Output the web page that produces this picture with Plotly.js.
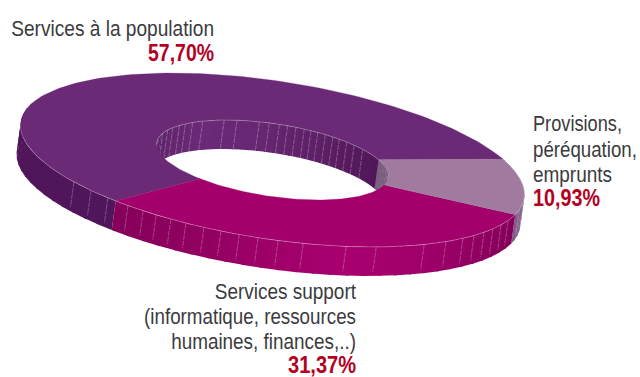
<!DOCTYPE html>
<html>
<head>
<meta charset="utf-8">
<script src="https://cdn.plot.ly/plotly-3.0.1.min.js"></script>
<style>html,body{margin:0;padding:0;background:#fff}#chart{width:640px;height:377px}</style>
</head>
<body>
<div id="chart"></div>
<script>
// Budget shares, in percent
const categories = ['Services à la population', 'Services support', 'Provisions'];
const shares = [57.70, 31.37, 10.93];

// Label lines per category
const labelLines = [
  ['Services à la population'],
  ['Services support', '(informatique, ressources', 'humaines, finances,..)'],
  ['Provisions,', 'péréquation,', 'emprunts']
];

// Colours of each top face
const topColors = ['#6a2a75', '#a3006c', '#a07a9f'];

// Shading along the walls: [angle in degrees, colour]
const outerWallShades = [
  [[125, '#50155a'], [195, '#50155a']],
  [[14, '#84005a'], [30, '#8e0060'], [50, '#9f006a'], [70, '#a8006f'], [90, '#9d0067'], [110, '#8c005e'], [128, '#84005a']],
  [[-26, '#9a7aa0'], [15, '#7d5a84']]
];
const innerWallShades = [
  [[-195, '#5a2066'], [-165, '#5e2269'], [-130, '#6b2a77'], [-100, '#672773'], [-60, '#5a1d62'], [-25, '#4f1558']],
  [[-28, '#7c5f80'], [16, '#7c5f80']]
];

// Facet seams on the walls, in degrees around the ring
const outerSeams = [139.3, 133.4, 128.1, 122.3, 118.2, 114.8, 111.1, 107.4, 103.1, 99.1, 94.9, 90.6, 86, 80.3,
  70.3, 63, 50.3, 43.8, 38.2, 34.2, 30.2, 26.3, 22.2, 18.1, 9, 3];
const innerSeams = [-163.9, -157.3, -152, -146.1, -141.4, -136.2, -129.7, -117.3, -110.5, -99.2, -94.3, -89.3,
  -85.2, -81, -76.8, -73.3, -69.7, -65.6, -61.4, -57.5, -52.9, -47.9, -41.6];

// Ring geometry on the page-sized axes
const ring = {cx: 272.5, cy: 160, a: 254.6, b: 79, tilt: 8.63, hole: 0.46, dx: -4, dy: 29};
const startAngle = -26.5;

const rad = d => d * Math.PI / 180;
function pt(t, scale, drop) {
  const u = ring.a * scale * Math.cos(rad(t)), v = ring.b * scale * Math.sin(rad(t));
  const c = Math.cos(rad(ring.tilt)), s = Math.sin(rad(ring.tilt));
  return [ring.cx + u * c - v * s + ring.dx * drop, ring.cy + u * s + v * c + ring.dy * drop];
}
function arc(t0, t1, scale, drop) {
  const n = Math.max(2, Math.ceil(Math.abs(t1 - t0) / 1.5));
  const pts = [];
  for (let i = 0; i <= n; i++) pts.push(pt(t0 + (t1 - t0) * i / n, scale, drop));
  return pts;
}
const hex = c => [1, 3, 5].map(i => parseInt(c.substr(i, 2), 16));
function shade(stops, t) {
  if (t <= stops[0][0]) return stops[0][1];
  for (let i = 1; i < stops.length; i++) {
    if (t <= stops[i][0]) {
      const f = (t - stops[i - 1][0]) / (stops[i][0] - stops[i - 1][0]);
      const A = hex(stops[i - 1][1]), B = hex(stops[i][1]);
      return 'rgb(' + A.map((v, k) => Math.round(v + (B[k] - v) * f)).join(',') + ')';
    }
  }
  return stops[stops.length - 1][1];
}
function poly(pts, color, edge) {
  const closed = pts.concat([pts[0]]);
  return {x: closed.map(p => p[0]), y: closed.map(p => p[1]), mode: 'lines', fill: 'toself', fillcolor: color,
    line: {width: edge, color: color}, hoverinfo: 'skip', showlegend: false};
}
function stroke(pts, color, width, dash) {
  return {x: pts.map(p => p[0]), y: pts.map(p => p[1]), mode: 'lines',
    line: {color: color, width: width, dash: dash || 'solid'}, hoverinfo: 'skip', showlegend: false};
}

// Slice spans, clockwise: provisions, support, population
const spans = [];
{
  const deg = shares.map(v => v / 100 * 360);
  const provEnd = startAngle + deg[2];
  const supEnd = provEnd + deg[1];
  spans[2] = [startAngle, provEnd];
  spans[1] = [provEnd, supEnd];
  spans[0] = [supEnd, supEnd + deg[0]];
}

const traces = [];
function wall(t0, t1, scale, stops) {
  // Overlap each facet slightly with the next so no hairline shows through
  const step = 4;
  for (let t = t0; t < t1 - 0.01; t += step) {
    const e = Math.min(t1, t + step + 0.6);
    traces.push(poly(arc(t, e, scale, 0).concat(arc(e, t, scale, 1)), shade(stops, t + step / 2), 0));
  }
}

// Outer walls
wall(spans[1][1], 195, 1, outerWallShades[0]);
wall(-30, spans[1][0], 1, outerWallShades[2]);
wall(spans[1][0], spans[1][1], 1, outerWallShades[1]);
// Inner walls on the far side of the hole
wall(startAngle, 16, ring.hole, innerWallShades[1]);
wall(-195, startAngle, ring.hole, innerWallShades[0]);

// Wall seams
const seamColor = 'rgba(255,255,255,0.38)';
outerSeams.forEach(t => {
  traces.push(stroke([pt(t, 1, 0), pt(t, 1, 0.86)], seamColor, 0.7, '5px,1px'));
});
innerSeams.forEach(t => {
  traces.push(stroke([pt(t, ring.hole, 0), pt(t, ring.hole, 1)], seamColor, 0.7, '5px,1px'));
});

// Top faces
[0, 1, 2].forEach(i => {
  const [t0, t1] = spans[i];
  traces.push(poly(arc(t0, t1, 1, 0).concat(arc(t1, t0, ring.hole, 0)), topColors[i], 0.3));
});

// Light rim along the visible edges
const rimColor = 'rgba(255,255,255,0.38)';
traces.push(stroke(arc(-22, 178, 1, 0), rimColor, 0.7));
traces.push(stroke(arc(-185, startAngle, ring.hole, 0), rimColor, 0.7));

// Labels: one text per line, anchored at the page position given here.
// Widths hold the condensed set width of each line.
const percent = v => v.toFixed(2).replace('.', ',') + '%';
const labelPlacement = [
  {x: 214, pos: 'middle left', ys: [30], pctY: 55, widths: [203], pctWidth: 66},
  {x: 356, pos: 'middle left', ys: [293, 318, 343], pctY: 367, widths: [142, 212, 185], pctWidth: 68},
  {x: 533, pos: 'middle right', ys: [125, 151, 176], pctY: 200.5, widths: [89, 104, 79], pctWidth: 67}
];
const condensed = [];
function addLabel(x, y, pos, text, font, width) {
  traces.push({x: [x], y: [y], mode: 'text', text: [text], textposition: pos, textfont: font,
    cliponaxis: false, hoverinfo: 'skip', showlegend: false});
  condensed.push({x: x, width: width});
}
labelLines.forEach((lines, i) => {
  const p = labelPlacement[i];
  lines.forEach((line, k) => addLabel(p.x, p.ys[k], p.pos, line,
    {family: 'Liberation Sans, Arial, sans-serif', size: 22.5, color: '#3b3b3e'}, p.widths[k]));
  addLabel(p.x, p.pctY, p.pos, percent(shares[i]),
    {family: 'Liberation Sans, Arial, sans-serif', size: 23, weight: 700, color: '#b4001f'}, p.pctWidth);
});

Plotly.newPlot('chart', traces, {
  width: 640, height: 377,
  margin: {l: 0, r: 0, t: 0, b: 0},
  paper_bgcolor: '#fff', plot_bgcolor: '#fff',
  showlegend: false,
  xaxis: {range: [0, 640], visible: false, fixedrange: true},
  yaxis: {range: [377, 0], visible: false, fixedrange: true}
}, {displayModeBar: false, staticPlot: true}).then(gd => {
  // Condense each label horizontally about its anchor
  const nodes = gd.querySelectorAll('.textpoint text');
  nodes.forEach((node, i) => {
    const c = condensed[i];
    if (!c) return;
    const sx = c.width / node.getBBox().width;
    node.setAttribute('transform', 'translate(' + c.x + ' 0) scale(' + sx + ' 1) translate(' + (-c.x) + ' 0)');
  });
});
</script>
</body>
</html>
